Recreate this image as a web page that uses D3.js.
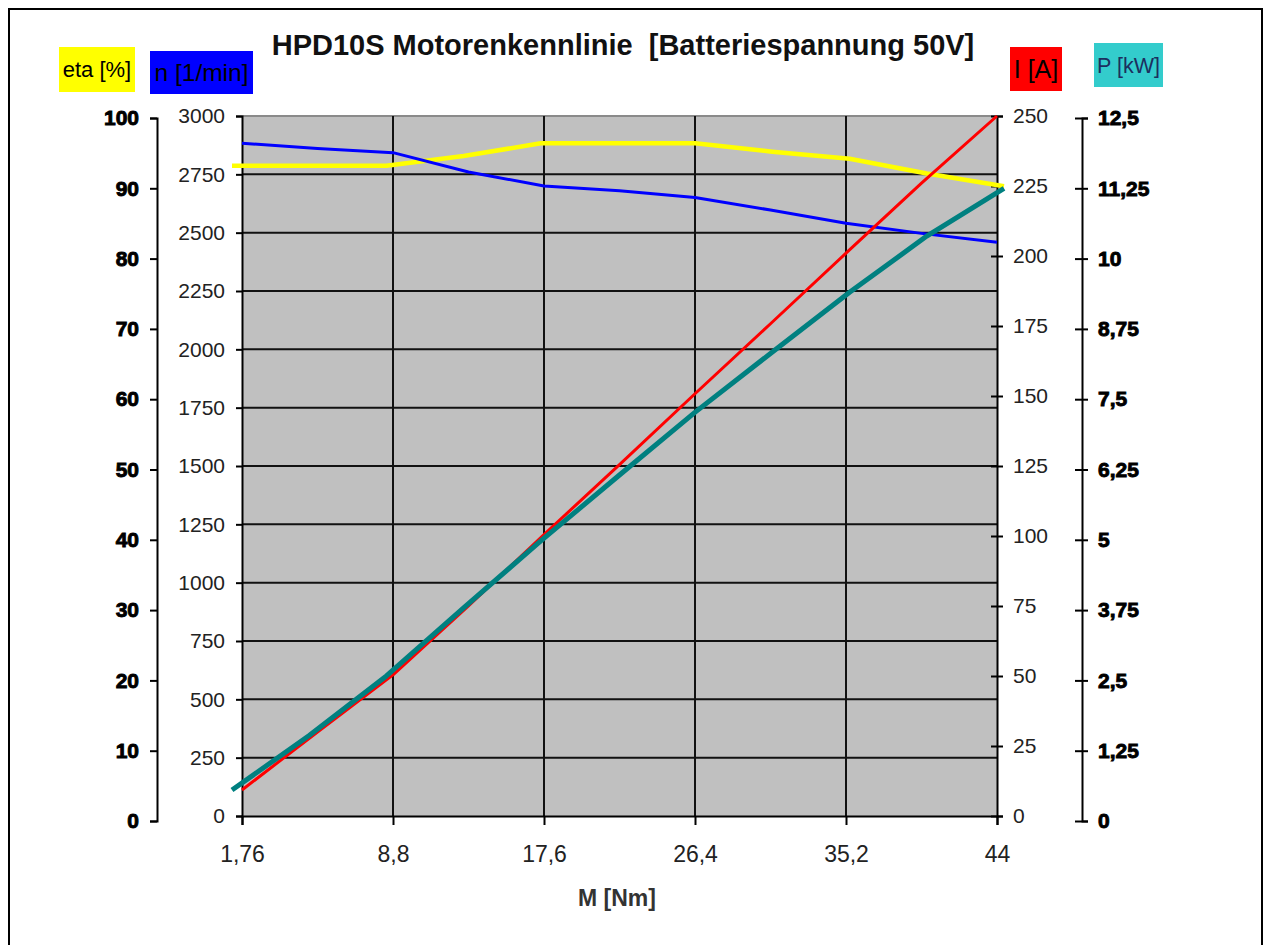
<!DOCTYPE html>
<html>
<head>
<meta charset="utf-8">
<script src="https://cdn.jsdelivr.net/npm/d3@7/dist/d3.min.js"></script>
<style>
  body { margin: 0; background: #fff; }
  text { font-family: "Liberation Sans", Arial, sans-serif; }
</style>
</head>
<body>
<div id="chart"></div>
<script>
//------------- data --------------------------------------------
let torque     = [1.76, 5.28, 8.8, 13.2, 17.6, 22, 26.4, 30.8, 35.2, 39.6, 44];      // M [Nm]
let speed      = [2883, 2861, 2843, 2760, 2700, 2680, 2651, 2597, 2540, 2497, 2459]; // n [1/min]
let current    = [9.3, 30, 50.4, 75, 100.5, 125.5, 150.8, 175.8, 201, 226, 250];     // I [A]
let efficiency = [93.2, 93.2, 93.2, 94.6, 96.4, 96.4, 96.4, 95.2, 94.2, 92.1, 90.3]; // eta [%]
let power      = [0.55, 1.52, 2.58, 3.79, 4.98, 6.13, 7.27, 8.34, 9.4, 10.4, 11.25]; // P [kW]

let mTicks   = [1.76, 8.8, 17.6, 26.4, 35.2, 44];
let nTicks   = d3.range(0, 3001, 250);
let iTicks   = d3.range(0, 251, 25);
let etaTicks = d3.range(0, 101, 10);
let pTicks   = [0, 1.25, 2.5, 3.75, 5, 6.25, 7.5, 8.75, 10, 11.25, 12.5];
//-----------------------------------------------------------------

let W = 1270, H = 945;
let plot = { left: 242, right: 997, top: 116, bottom: 816 };

let comma = d => String(d).replace(".", ",");

var svg = d3.select("#chart").append("svg")
    .attr("width", W)
    .attr("height", H);

// outer frame
svg.append("rect")
    .attr("x", 9).attr("y", 9)
    .attr("width", 1253).attr("height", 960)
    .attr("fill", "none")
    .attr("stroke", "#000")
    .attr("stroke-width", 2);

// x: the categories are evenly spaced, the first gap is shorter in value
var x = d3.scaleLinear()
    .domain([1.76, 8.8, 44])
    .range([plot.left, plot.left + (plot.right - plot.left) / 5, plot.right]);
// secondary x (eta, P) runs a bit wider than the plot
var x2 = d3.scaleLinear()
    .domain([1.76, 8.8, 44])
    .range([232, 232 + (1004 - 232) / 5, 1004]);

var yN   = d3.scaleLinear().domain([0, 3000]).range([plot.bottom, plot.top]);
var yI   = d3.scaleLinear().domain([0, 250]).range([plot.bottom, plot.top]);
var yEta = d3.scaleLinear().domain([0, 100]).range([821, 118]);
var yP   = d3.scaleLinear().domain([0, 12.5]).range([821, 118]);

// plot area
svg.append("rect")
    .attr("x", plot.left).attr("y", plot.top)
    .attr("width", plot.right - plot.left)
    .attr("height", plot.bottom - plot.top)
    .attr("fill", "#c0c0c0");

svg.append("line")
    .attr("x1", plot.left).attr("x2", plot.right)
    .attr("y1", plot.top).attr("y2", plot.top)
    .attr("stroke", "#8a8a8a").attr("stroke-width", 2);

// grid
svg.append("g")
    .selectAll("line")
    .data(nTicks.slice(1, -1))
    .enter().append("line")
    .attr("x1", plot.left).attr("x2", plot.right)
    .attr("y1", d => yN(d)).attr("y2", d => yN(d))
    .attr("stroke", "#111").attr("stroke-width", 2);

svg.append("g")
    .selectAll("line")
    .data(mTicks.slice(1, -1))
    .enter().append("line")
    .attr("x1", d => x(d)).attr("x2", d => x(d))
    .attr("y1", plot.top).attr("y2", plot.bottom)
    .attr("stroke", "#111").attr("stroke-width", 2);

function styleAxis(g, size, bold) {
    g.select(".domain").attr("stroke", "#000").attr("stroke-width", 2);
    g.selectAll(".tick line").attr("stroke", "#000").attr("stroke-width", 2);
    g.selectAll(".tick text")
        .attr("fill", bold ? "#000" : "#222")
        .style("font-size", size + "px")
        .style("font-weight", bold ? "bold" : "normal")
        .attr("stroke", bold ? "#000" : "none")
        .attr("stroke-width", bold ? 0.9 : 0);
}

// x axis
svg.append("g")
    .attr("transform", "translate(0," + plot.bottom + ")")
    .call(d3.axisBottom(x).tickValues(mTicks).tickSizeOuter(0).tickSize(9).tickPadding(21).tickFormat(comma))
    .call(g => styleAxis(g, 23, false));

// n axis (inner left)
svg.append("g")
    .attr("transform", "translate(" + plot.left + ",0)")
    .call(d3.axisLeft(yN).tickValues(nTicks).tickSizeOuter(0).tickSize(6).tickPadding(11).tickFormat(d3.format("d")))
    .call(g => styleAxis(g, 21, false));

// I axis (inner right), ticks cross the line
svg.append("g")
    .attr("transform", "translate(" + plot.right + ",0)")
    .call(d3.axisRight(yI).tickValues(iTicks).tickSizeOuter(0).tickSize(6).tickPadding(10))
    .call(g => styleAxis(g, 21, false))
    .call(g => g.selectAll(".tick line").attr("x1", -6));

// eta axis (outer left)
svg.append("g")
    .attr("transform", "translate(157,0)")
    .call(d3.axisLeft(yEta).tickValues(etaTicks).tickSizeOuter(0).tickSize(7).tickPadding(11))
    .call(g => styleAxis(g, 21, true));

// P axis (outer right)
svg.append("g")
    .attr("transform", "translate(1082,0)")
    .call(d3.axisRight(yP).tickValues(pTicks).tickSizeOuter(0).tickSize(6).tickPadding(10).tickFormat(comma))
    .call(g => styleAxis(g, 21, true))
    .call(g => g.selectAll(".tick line").attr("x1", -7));

// curves
let pts = torque.map((m, i) => i);
function drawLine(xs, ys, vals, color, width) {
    svg.append("path")
        .datum(pts)
        .attr("fill", "none")
        .attr("stroke", color)
        .attr("stroke-width", width)
        .attr("stroke-linejoin", "round")
        .attr("d", d3.line().x(i => xs(torque[i])).y(i => ys(vals[i])));
}
drawLine(x2, yEta, efficiency, "#ffff00", 4.5);
drawLine(x, yN, speed, "#0000ff", 3);
drawLine(x, yI, current, "#ff0000", 3);
drawLine(x2, yP, power, "#008080", 5);

// title
svg.append("text")
    .attr("x", 623).attr("y", 55)
    .attr("text-anchor", "middle")
    .style("font-size", "29px")
    .style("font-weight", "bold")
    .style("white-space", "pre")
    .attr("fill", "#111")
    .text("HPD10S Motorenkennlinie  [Batteriespannung 50V]");

// axis name boxes
let boxes = [
    { x: 59,   y: 47, w: 76,  h: 45, fill: "#ffff00", label: "eta [%]",   size: 22, color: "#000" },
    { x: 150,  y: 51, w: 103, h: 43, fill: "#0000ff", label: "n [1/min]", size: 24.5, color: "#000" },
    { x: 1010, y: 47, w: 52,  h: 44, fill: "#ff0000", label: "I [A]",     size: 25, color: "#000" },
    { x: 1094, y: 43, w: 69,  h: 44, fill: "#33cccc", label: "P [kW]",    size: 21.5, color: "#1c2f5e" }
];
boxes.forEach(b => {
    svg.append("rect")
        .attr("x", b.x).attr("y", b.y)
        .attr("width", b.w).attr("height", b.h)
        .attr("fill", b.fill);
    svg.append("text")
        .attr("x", b.x + b.w / 2).attr("y", b.y + b.h / 2)
        .attr("dy", "0.35em")
        .attr("text-anchor", "middle")
        .style("font-size", b.size + "px")
        .attr("fill", b.color)
        .text(b.label);
});

// x axis title
svg.append("text")
    .attr("x", 617).attr("y", 906)
    .attr("text-anchor", "middle")
    .style("font-size", "23px")
    .style("font-weight", "bold")
    .attr("fill", "#333")
    .text("M [Nm]");
</script>
</body>
</html>
